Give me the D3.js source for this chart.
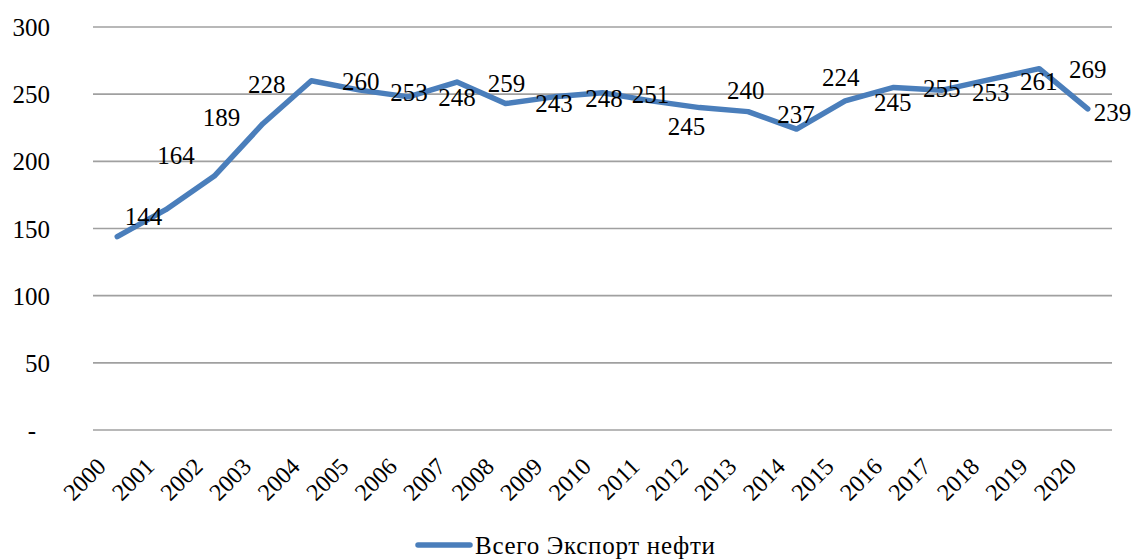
<!DOCTYPE html>
<html>
<head>
<meta charset="utf-8">
<script src="https://cdn.jsdelivr.net/npm/d3@7"></script>
<style>
  body { margin: 0; background: #fff; }
</style>
</head>
<body>
<svg id="chart" width="1134" height="559"></svg>
<script>
// data
var years = ['2000', '2001', '2002', '2003', '2004', '2005', '2006', '2007', '2008', '2009', '2010',
  '2011', '2012', '2013', '2014', '2015', '2016', '2017', '2018', '2019', '2020'];
var exportValues = [144, 164, 189, 228, 260, 253, 248, 259, 243, 248, 251,
  245, 240, 237, 224, 245, 255, 253, 261, 269, 239];
var yTicks = [0, 50, 100, 150, 200, 250, 300];
var seriesName = 'Всего Экспорт нефти';

// the data labels were placed by hand in the original, so keep where they sit
// (in category index / value units, so they go through the scales too)
var labelAtIndex = [0.54, 1.21, 2.15, 3.08, 5.02, 6.01, 7.0, 8.02, 9.0, 10.03, 10.99,
  11.73, 12.95, 13.99, 14.91, 15.98, 16.99, 18.0, 18.99, 20.0, 20.51];
var labelAtValue = [158.9, 204, 232.6, 257.2, 259.8, 251.6, 247.5, 257.6, 242.7, 246.8, 250.1,
  226.3, 253.1, 235.2, 262.4, 243.8, 254.2, 251.2, 259.8, 268.7, 236.4];

var serif = "'Liberation Serif', 'Times New Roman', Times, Tinos, 'DejaVu Serif', 'Noto Serif', FreeSerif, serif";

var svg = d3.select('#chart');
var plotLeft = 93, plotRight = 1112, plotTop = 27, plotBottom = 430;

var x = d3.scalePoint().domain(years).range([plotLeft, plotRight]).padding(0.5);
var step = x.step();
var xIdx = function(i) { return x(years[0]) + i * step; };
var y = d3.scaleLinear().domain([0, 300]).range([plotBottom, plotTop]);

// gridlines
svg.append('g').selectAll('line').data(yTicks).enter().append('line')
  .attr('x1', plotLeft).attr('x2', plotRight)
  .attr('y1', function(d) { return y(d); })
  .attr('y2', function(d) { return y(d); })
  .attr('stroke', '#a0a0a0')
  .attr('stroke-width', 1.6);

// y axis labels, zero shows as a dash like excel's accounting format
var yAxis = d3.axisLeft(y).tickValues(yTicks).tickSize(0).tickPadding(0)
  .tickFormat(function(d) { return d === 0 ? '-' : d; });
var gy = svg.append('g').attr('transform', 'translate(50,0)').call(yAxis);
gy.select('.domain').remove();
gy.selectAll('text')
  .style('font-family', serif)
  .attr('font-size', 25)
  .attr('fill', '#000')
  .attr('dy', '0.34em')
  .attr('dx', function(d) { return d === 0 ? -14 : 0; });

// x axis labels, rotated
svg.append('g').selectAll('text').data(years).enter().append('text')
  .attr('transform', function(d) { return 'translate(' + (x(d) - 10) + ',468) rotate(-45)'; })
  .attr('text-anchor', 'end')
  .style('font-family', serif)
  .attr('font-size', 24)
  .text(function(d) { return d; });

// the line
var line = d3.line()
  .x(function(d, i) { return x(years[i]); })
  .y(function(d) { return y(d); });

svg.append('path').datum(exportValues)
  .attr('d', line)
  .attr('fill', 'none')
  .attr('stroke', '#4a7ebb')
  .attr('stroke-width', 5.5)
  .attr('stroke-linejoin', 'round')
  .attr('stroke-linecap', 'round');

// data labels
svg.append('g').selectAll('text').data(exportValues).enter().append('text')
  .attr('x', function(d, i) { return xIdx(labelAtIndex[i]); })
  .attr('y', function(d, i) { return y(labelAtValue[i]); })
  .attr('dy', '0.34em')
  .attr('text-anchor', 'middle')
  .style('font-family', serif)
  .attr('font-size', 25)
  .text(function(d) { return d; });

// legend
var lg = svg.append('g');
lg.append('line')
  .attr('x1', 418).attr('x2', 470)
  .attr('y1', 545).attr('y2', 545)
  .attr('stroke', '#4a7ebb')
  .attr('stroke-width', 5.5)
  .attr('stroke-linecap', 'round');
lg.append('text')
  .attr('x', 475).attr('y', 554)
  .style('font-family', serif)
  .attr('font-size', 25)
  .attr('textLength', 240)
  .attr('lengthAdjust', 'spacing')
  .text(seriesName);
</script>
</body>
</html>
